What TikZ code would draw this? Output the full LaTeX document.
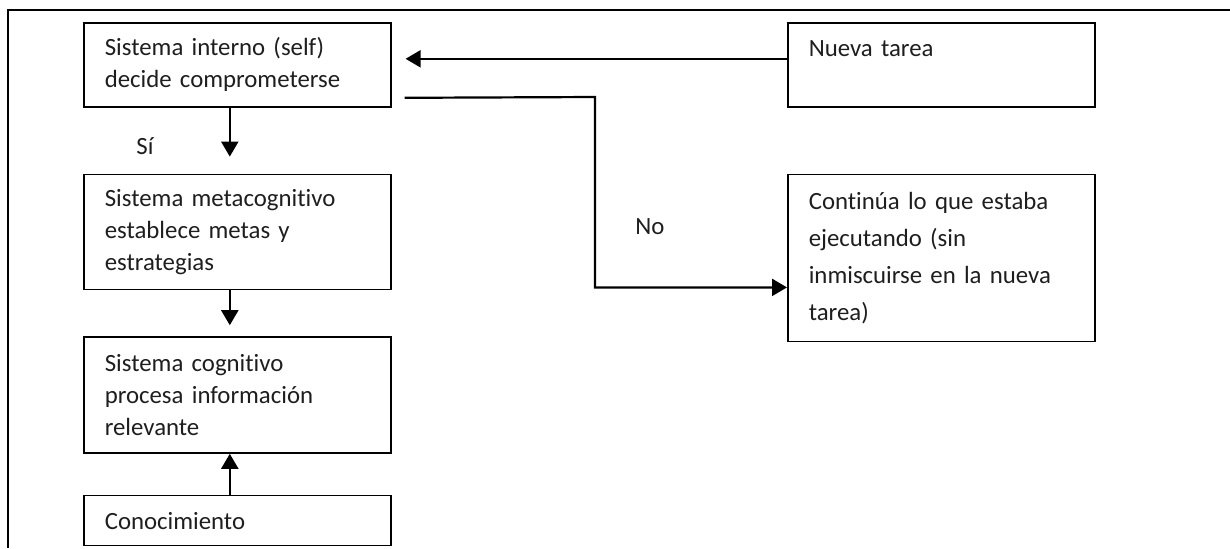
\documentclass[tikz,border=0pt]{standalone}
\usepackage{fontspec}
\setmainfont{Carlito}[Ligatures=NoCommon]
\usepackage{tikz}
\usetikzlibrary{arrows.meta, positioning}
\definecolor{InkGray}{RGB}{30, 30, 30}
\tikzset{
  blk/.style={rectangle, draw=black, line width=0.8pt, minimum width=153.5pt,
    text width=132.5pt, inner xsep=10.5pt, inner ysep=2pt, align=left,
    font=\fontsize{12.4}{16}\selectfont, text=InkGray},
  arr/.style={-{Triangle[length=7.5pt,width=8.5pt]}, line width=1.1pt, color=black},
  lbl/.style={font=\fontsize{12.4}{16}\selectfont, text=InkGray},
}

\begin{document}
\begin{tikzpicture}[x=0.5pt, y=-0.5pt]
  \useasboundingbox (0,0) rectangle (1230,548);
  % outer frame
  \draw[line width=0.7pt] (8,548) -- (8,10) -- (1230,10);

  \node[blk, minimum height=42pt, anchor=north west] (self) at (83,22)
    {Sistema interno (self)\\decide comprometerse};
  \node[blk, minimum height=57.5pt, below=33pt of self] (meta)
    {Sistema metacognitivo\\establece metas y\\estrategias};
  \node[blk, minimum height=58pt, below=23pt of meta] (cog)
    {Sistema cognitivo\\procesa información\\relevante};
  \node[blk, minimum height=25pt, below=20.5pt of cog] (cono) {Conocimiento};

  \node[blk, minimum height=42pt, anchor=north west] (nueva) at (787,22)
    {Nueva tarea\\\mbox{}};
  \node[blk, minimum height=83.5pt, below=33pt of nueva,
        font=\fontsize{12.4}{18.5}\selectfont] (contin)
    {Continúa lo que estaba\\ejecutando (sin\\inmiscuirse en la nueva\\tarea)};

  \node[lbl] (si) at (145,146) {Sí};
  \node[lbl] (no) at (650,227) {No};

  \coordinate (noturn) at (595,97);
  \draw[arr] ([yshift=3pt]nueva.west) -- ([yshift=3pt, xshift=7pt]self.east);
  \draw[arr] ([xshift=6.5pt, yshift=-16.5pt]self.east) -- (noturn)
    |- ([yshift=-14.75pt]contin.west);
  \draw[arr, shorten >=8.5pt] ([xshift=-3.75pt]self.south) -- ([xshift=-3.75pt]meta.north);
  \draw[arr, shorten >=5.5pt] ([xshift=-3.75pt]meta.south) -- ([xshift=-3.75pt]cog.north);
  \draw[arr] ([xshift=-3.75pt]cono.north) -- ([xshift=-3.75pt]cog.south);
\end{tikzpicture}
\end{document}
